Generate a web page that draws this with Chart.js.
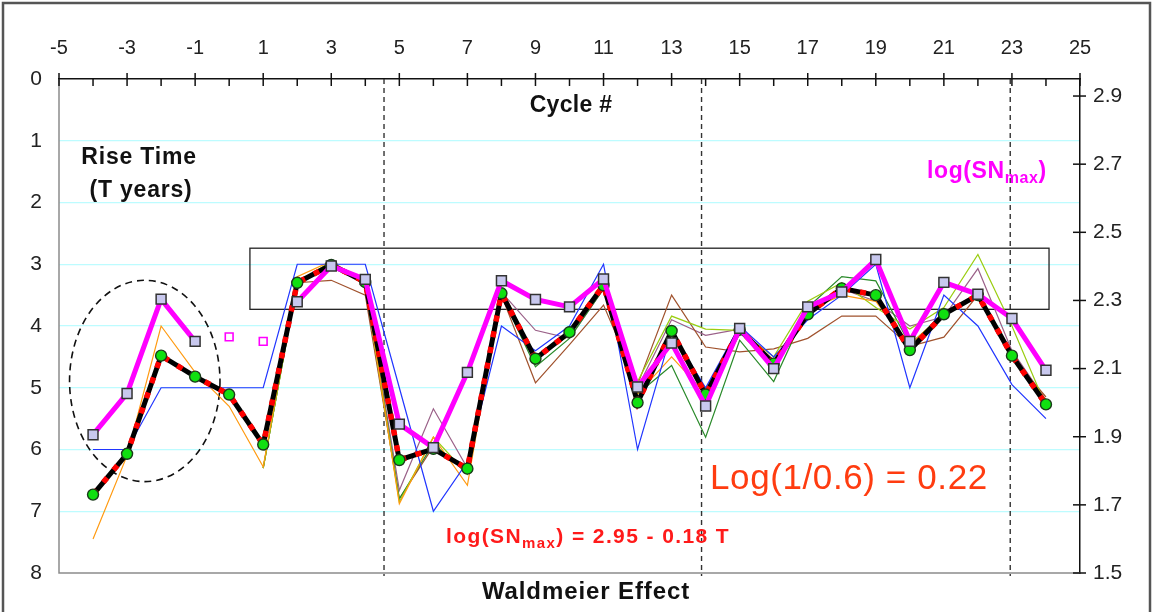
<!DOCTYPE html>
<html>
<head>
<meta charset="utf-8">
<title>Waldmeier Effect</title>
<script src="https://cdn.jsdelivr.net/npm/chart.js@4.4.1/dist/chart.umd.min.js"></script>
<style>
  html, body { margin: 0; padding: 0; background: #fff; }
  #wrap { width: 1153px; height: 612px; }
</style>
</head>
<body>
<div id="wrap"><canvas id="myChart" width="1153" height="612"></canvas></div>
<script>
// Cycle numbers (x axis)
var cycles = [-4, -3, -2, -1, 0, 1, 2, 3, 4, 5, 6, 7, 8, 9, 10, 11, 12, 13, 14, 15, 16, 17, 18, 19, 20, 21, 22, 23, 24];

// Rise time T in years (black line, green markers) - left axis
var riseTime = [6.73, 6.07, 4.48, 4.82, 5.11, 5.92, 3.30, 3.01, 3.29, 6.17, 5.99, 6.31, 3.47, 4.53, 4.10, 3.34, 5.24, 4.08, 5.11, 4.06, 4.61, 3.81, 3.39, 3.50, 4.39, 3.81, 3.50, 4.48, 5.27];

// log(SNmax) (magenta line, lavender squares) - right axis
var logSNmax = [1.906, 2.027, 2.304, 2.180, null, null, 2.296, 2.401, 2.362, 1.937, 1.868, 2.089, 2.358, 2.303, 2.281, 2.363, 2.046, 2.175, 1.990, 2.218, 2.100, 2.281, 2.325, 2.420, 2.180, 2.353, 2.318, 2.247, 2.095];

// uncertain log(SNmax) values (hollow magenta squares)
var uncertainCycles = [0, 1];
var uncertainLogSN = [2.193, 2.180];

// other rise time estimates (thin lines)
var altBlue = [6.0, 6.0, 5.0, 5.0, 5.0, 5.0, 3.0, 3.0, 3.0, 5.0, 7.0, 6.2, 4.0, 4.4, 4.0, 3.0, 6.0, 4.1, 5.0, 4.0, 4.5, 3.9, 3.5, 3.0, 5.0, 3.5, 4.0, 4.95, 5.5];
var altOrange = [7.45, 6.1, 4.0, 4.75, 5.3, 6.28, 3.2, 2.95, 3.3, 6.88, 5.8, 6.58, 3.4, 4.5, 4.1, 3.35, 5.1, 4.5, 5.1, 4.1, 4.6, 3.75, 3.5, 3.6, 4.3, 3.8, 3.5, 4.5, 5.2];
var altYellowGreen = [null, null, null, null, null, 6.3, 3.3, 2.95, 3.35, 6.85, 5.8, 6.4, 3.45, 4.5, 4.15, 3.35, 4.9, 3.84, 4.05, 4.07, 4.5, 3.6, 3.3, 3.7, 4.05, 3.7, 2.84, 4.0, 5.3];
var altGreen = [null, null, null, null, null, 6.3, 3.3, 3.0, 3.3, 6.8, 5.9, 6.4, 3.5, 4.66, 4.2, 3.4, 5.1, 4.64, 5.8, 4.23, 4.9, 3.7, 3.2, 3.27, 4.3, 3.8, 3.5, 4.5, 5.2];
var altBrown = [null, null, null, null, null, 6.3, 3.3, 3.26, 3.5, 6.8, 5.95, 6.3, 3.5, 4.92, 4.3, 3.66, 4.95, 3.5, 4.34, 4.42, 4.37, 4.2, 3.84, 3.84, 4.33, 4.18, 3.5, 4.5, 5.15];
var altMauve = [null, null, null, null, null, null, null, null, 3.3, 6.66, 5.34, 6.3, 3.45, 4.07, 4.2, 3.4, 5.0, 3.9, 4.15, 4.05, 4.55, 3.75, 3.4, 3.6, 4.0, 3.85, 3.07, 4.4, 5.2];

// tick values
var leftTicks = [0, 1, 2, 3, 4, 5, 6, 7, 8];
var rightTicks = [1.5, 1.7, 1.9, 2.1, 2.3, 2.5, 2.7, 2.9];

var FONT = '"Liberation Sans", Arial, sans-serif';

function toPoints(xs, values) {
  return xs.map(function (c, i) {
    return { x: c, y: values[i] };
  });
}

function thinLine(values, color) {
  return {
    data: toPoints(cycles, values),
    yAxisID: 'y',
    borderColor: color,
    borderWidth: 1.2,
    pointRadius: 0,
    spanGaps: false,
    order: 10
  };
}

// draws text with a subscript part, e.g. log(SN max)
function drawParts(ctx, parts, x, y) {
  parts.forEach(function (p) {
    ctx.font = p.font;
    ctx.fillText(p.text, x, y + (p.dy || 0));
    x += ctx.measureText(p.text).width;
  });
}

function spacing(ctx, px) {
  if ('letterSpacing' in ctx) ctx.letterSpacing = px + 'px';
}

var decorations = {
  id: 'decorations',
  beforeDatasetsDraw: function (chart) {
    var ctx = chart.ctx;
    var a = chart.chartArea;
    var xs = chart.scales.x;
    var ys = chart.scales.y;
    ctx.save();

    // gray left and bottom edge of the plot
    ctx.strokeStyle = '#8c8c8c';
    ctx.lineWidth = 1.5;
    ctx.beginPath();
    ctx.moveTo(a.left, a.top);
    ctx.lineTo(a.left, a.bottom);
    ctx.lineTo(a.right, a.bottom);
    ctx.stroke();

    // dashed cycle separators
    ctx.strokeStyle = '#333';
    ctx.lineWidth = 1.4;
    ctx.setLineDash([5, 4]);
    [4.55, 13.88, 22.95].forEach(function (c) {
      var px = xs.getPixelForValue(c);
      ctx.beginPath();
      ctx.moveTo(px, a.top);
      ctx.lineTo(px, a.bottom + 3);
      ctx.stroke();
    });

    // dashed ellipse around the first cycles
    ctx.strokeStyle = '#111';
    ctx.lineWidth = 1.6;
    ctx.setLineDash([7, 5]);
    var cx = xs.getPixelForValue(-2.48);
    var cy = ys.getPixelForValue(4.89);
    var rx = xs.getPixelForValue(-2.48 + 2.21) - cx;
    var ry = ys.getPixelForValue(4.89 + 1.63) - cy;
    ctx.beginPath();
    ctx.ellipse(cx, cy, rx, ry, 0, 0, Math.PI * 2);
    ctx.stroke();

    // box around the high plateau
    ctx.setLineDash([]);
    ctx.strokeStyle = '#222';
    ctx.lineWidth = 1.3;
    var bx1 = xs.getPixelForValue(0.61);
    var bx2 = xs.getPixelForValue(24.09);
    var by1 = ys.getPixelForValue(2.74);
    var by2 = ys.getPixelForValue(3.73);
    ctx.strokeRect(bx1, by1, bx2 - bx1, by2 - by1);
    ctx.restore();
  },
  afterDraw: function (chart) {
    var ctx = chart.ctx;
    var a = chart.chartArea;
    var xs = chart.scales.x;
    var y2 = chart.scales.y2;
    ctx.save();

    // outer border
    ctx.strokeStyle = '#555';
    ctx.lineWidth = 2.5;
    ctx.strokeRect(3, 3, 1147, 620);

    // tick marks on the top axis (pointing into the plot)
    ctx.strokeStyle = '#111';
    ctx.lineWidth = 1.5;
    for (var c = -5; c <= 25; c++) {
      var px = xs.getPixelForValue(c);
      ctx.beginPath();
      if (Math.abs(c % 2) === 1) {
        ctx.moveTo(px, a.top - 6);
      } else {
        ctx.moveTo(px, a.top);
      }
      ctx.lineTo(px, a.top + 7);
      ctx.stroke();
    }
    // tick marks on the right axis
    rightTicks.forEach(function (v) {
      var py = y2.getPixelForValue(v);
      ctx.beginPath();
      ctx.moveTo(a.right - 7, py);
      ctx.lineTo(a.right + 6, py);
      ctx.stroke();
    });

    // labels
    ctx.textBaseline = 'middle';
    ctx.textAlign = 'center';
    ctx.fillStyle = '#111';
    ctx.font = 'bold 23px ' + FONT;
    spacing(ctx, 0.3);
    ctx.fillText('Cycle #', 571, 106);
    spacing(ctx, 0.8);
    ctx.fillText('Rise Time', 139, 158);
    ctx.fillText('(T years)', 141, 191);
    ctx.font = 'bold 24px ' + FONT;
    spacing(ctx, 0.9);
    ctx.fillText('Waldmeier Effect', 586, 592);

    ctx.textAlign = 'left';
    ctx.textBaseline = 'alphabetic';
    ctx.fillStyle = '#ff00ff';
    spacing(ctx, 0.6);
    drawParts(ctx, [
      { text: 'log(SN', font: 'bold 23px ' + FONT },
      { text: 'max', font: 'bold 16px ' + FONT, dy: 5 },
      { text: ')', font: 'bold 23px ' + FONT }
    ], 927, 178);

    ctx.fillStyle = '#ff1a1a';
    spacing(ctx, 1.4);
    drawParts(ctx, [
      { text: 'log(SN', font: 'bold 21px ' + FONT },
      { text: 'max', font: 'bold 15px ' + FONT, dy: 5 },
      { text: ') = 2.95 - 0.18 T', font: 'bold 21px ' + FONT }
    ], 446, 543);

    ctx.fillStyle = '#ff3c10';
    ctx.font = '35px ' + FONT;
    spacing(ctx, 0.6);
    ctx.fillText('Log(1/0.6) = 0.22', 710, 489);
    ctx.restore();
  }
};

var ctx = document.getElementById('myChart').getContext('2d');
var myChart = new Chart(ctx, {
  type: 'line',
  data: {
    datasets: [
      thinLine(altBlue, '#2035ff'),
      thinLine(altOrange, '#ff9a10'),
      thinLine(altYellowGreen, '#9acd10'),
      thinLine(altGreen, '#2a8a2a'),
      thinLine(altBrown, '#a0522d'),
      thinLine(altMauve, '#9a6088'),
      {
        // rise time, black line
        data: toPoints(cycles, riseTime),
        yAxisID: 'y',
        borderColor: '#000',
        borderWidth: 5,
        pointRadius: 0,
        order: 6
      },
      {
        // fitted log(SNmax) = 2.95 - 0.18 T, falls on the rise time line
        data: toPoints(cycles, riseTime),
        yAxisID: 'y',
        borderColor: '#ff0000',
        borderWidth: 5.5,
        borderDash: [6, 10],
        pointRadius: 0,
        order: 5
      },
      {
        // green markers of the rise time
        data: toPoints(cycles, riseTime),
        yAxisID: 'y',
        showLine: false,
        pointStyle: 'circle',
        pointRadius: 5.5,
        pointBackgroundColor: '#10e010',
        pointBorderColor: '#1a3a1a',
        pointBorderWidth: 1.4,
        order: 3
      },
      {
        // log(SNmax), magenta line
        data: toPoints(cycles, logSNmax),
        yAxisID: 'y2',
        borderColor: '#ff00ff',
        borderWidth: 5,
        spanGaps: false,
        pointStyle: 'rect',
        pointRadius: 7,
        pointBackgroundColor: '#c8c8ee',
        pointBorderColor: '#333',
        pointBorderWidth: 1.5,
        order: 2
      },
      {
        data: toPoints(uncertainCycles, uncertainLogSN),
        yAxisID: 'y2',
        showLine: false,
        pointStyle: 'rect',
        pointRadius: 5.5,
        pointBackgroundColor: '#fff',
        pointBorderColor: '#ff00ff',
        pointBorderWidth: 1.6,
        order: 1
      }
    ]
  },
  options: {
    responsive: false,
    animation: false,
    layout: { padding: { left: 0, right: 0, top: 0, bottom: 39 } },
    plugins: {
      legend: { display: false },
      tooltip: { enabled: false }
    },
    scales: {
      x: {
        type: 'linear',
        position: 'top',
        min: -5,
        max: 25,
        afterFit: function (scale) { scale.height = 79; },
        grid: { display: false, drawTicks: false },
        border: { display: true, color: '#111', width: 1.5 },
        ticks: {
          stepSize: 1,
          autoSkip: false,
          maxRotation: 0,
          padding: 19,
          color: '#222',
          font: { family: FONT, size: 20 },
          callback: function (v) { return Math.abs(v % 2) === 1 ? String(v) : ''; }
        }
      },
      y: {
        position: 'left',
        reverse: true,
        min: 0,
        max: 8,
        afterFit: function (scale) { scale.width = 59; },
        afterBuildTicks: function (scale) {
          scale.ticks = leftTicks.map(function (v) { return { value: v }; });
        },
        grid: {
          drawTicks: false,
          color: function (c) {
            return (c.tick && c.tick.value > 0 && c.tick.value < 8) ? '#bdfcff' : 'rgba(0,0,0,0)';
          },
          lineWidth: 1.2
        },
        border: { display: false },
        ticks: {
          padding: 17,
          color: '#222',
          font: { family: FONT, size: 21 }
        }
      },
      y2: {
        position: 'right',
        min: 1.5,
        max: 2.95,
        afterFit: function (scale) { scale.width = 73; },
        afterBuildTicks: function (scale) {
          scale.ticks = rightTicks.map(function (v) { return { value: v }; });
        },
        grid: { display: false, drawTicks: false },
        border: { display: true, color: '#111', width: 1.5 },
        ticks: {
          padding: 13,
          color: '#222',
          font: { family: FONT, size: 21 },
          callback: function (v) { return v.toFixed(1); }
        }
      }
    }
  },
  plugins: [decorations]
});
</script>
</body>
</html>
